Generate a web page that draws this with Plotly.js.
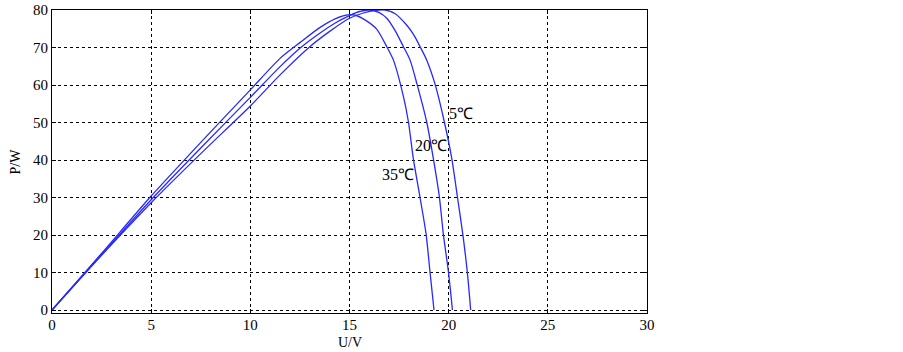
<!DOCTYPE html>
<html>
<head>
<meta charset="utf-8">
<script src="https://cdn.plot.ly/plotly-3.0.1.min.js"></script>
<style>html,body{margin:0;padding:0;background:#fff;}#chart{width:903px;height:352px;}</style>
</head>
<body>
<div id="chart"></div>
<script>
// Series: 35 ℃
const u35 = [0, 2.5, 5, 7.5, 10, 11.5, 12.5, 13.5, 14.3, 14.9, 15.3, 15.8, 16.37, 16.88, 17.21, 17.72, 17.97, 18.22, 18.55, 18.86, 19.06, 19.26];
const p35 = [0, 15.1, 30.4, 44.7, 58.7, 67.1, 71.3, 75.3, 77.7, 78.7, 78.6, 77.3, 74.9, 70.2, 66.7, 56.9, 50.2, 40.3, 30.2, 20.3, 10.1, 0];
// Series: 20 ℃
const u20 = [0, 2.5, 5, 7.5, 10, 11.5, 12.59, 13.5, 14.3, 15.0, 15.5, 16.0, 16.5, 16.88, 17.3, 17.72, 18.05, 18.39, 18.89, 19.23, 19.53, 19.73, 19.99, 20.19];
const p20 = [0, 14.8, 29.4, 43.2, 56.7, 64.9, 70.2, 73.8, 76.6, 78.5, 79.6, 80, 79.3, 77.8, 74.5, 70.2, 66.7, 60.5, 50.2, 40.3, 30.2, 20.3, 10.1, 0];
// Series: 5 ℃
const u5 = [0, 2.5, 5, 7.5, 10, 11.5, 13.0, 14.0, 15.0, 15.7, 16.3, 16.8, 17.3, 17.88, 18.25, 18.56, 18.89, 19.31, 19.78, 20.16, 20.44, 20.71, 20.94, 21.11];
const p5 = [0, 14.6, 28.6, 41.7, 54.4, 62.7, 70.2, 74.3, 77.8, 79.2, 79.9, 80, 79.0, 76, 73.3, 70.2, 66.7, 60.3, 50.2, 40.3, 30.2, 20.3, 10.1, 0];

const labels = ["5℃", "20℃", "35℃"];
const labelU = [20.6, 19.11, 17.45];
const labelP = [52.4, 43.9, 36.1];

const xTicks = [0, 5, 10, 15, 20, 25, 30];
const yTicks = [0, 10, 20, 30, 40, 50, 60, 70, 80];
const xTitle = 'U/V';
const yTitle = 'P/W';

const lineStyle = {color: 'rgb(40,40,255)', width: 1.3, shape: 'spline', smoothing: 0.7};
const traces = [
  {x: u35, y: p35, mode: 'lines', line: lineStyle, name: '35℃'},
  {x: u20, y: p20, mode: 'lines', line: lineStyle, name: '20℃'},
  {x: u5, y: p5, mode: 'lines', line: lineStyle, name: '5℃'}
];

const font = {family: '"Liberation Serif", "Times New Roman", serif', size: 16, color: '#000'};
const tickFont = {family: '"Liberation Serif", "Times New Roman", serif', size: 15, color: '#000'};
const titleFont = {family: '"Liberation Serif", "Times New Roman", serif', size: 14, color: '#000'};
const axisCommon = {
  showline: true, linecolor: '#000', linewidth: 1, mirror: 'ticks',
  ticks: 'inside', ticklen: 4, tickcolor: '#000',
  showgrid: true, gridcolor: '#000', gridwidth: 1, griddash: '3px,3px',
  zeroline: false, tickfont: tickFont
};

const annotations = labels.map((t, i) => ({
  x: labelU[i], y: labelP[i], text: t, showarrow: false,
  font: font, xanchor: 'center', yanchor: 'middle'
}));
annotations.push({xref: 'paper', yref: 'paper', x: 0.5, y: 0, yshift: -21,
  text: xTitle, showarrow: false, font: titleFont, xanchor: 'center', yanchor: 'top', borderpad: 0});
annotations.push({xref: 'paper', yref: 'paper', x: 0, xshift: -37, y: 0.5,
  text: yTitle, textangle: -90, showarrow: false, font: titleFont, xanchor: 'center', yanchor: 'middle'});

const layout = {
  width: 903, height: 352,
  margin: {l: 52, r: 256, t: 10, b: 39},
  paper_bgcolor: '#fff', plot_bgcolor: '#fff',
  showlegend: false,
  font: font,
  xaxis: Object.assign({}, axisCommon, {
    range: [0, 30], tickvals: xTicks, ticktext: xTicks.map(String), ticklabelstandoff: -2
  }),
  yaxis: Object.assign({}, axisCommon, {
    range: [-0.8, 80], tickvals: yTicks, ticktext: yTicks.map(String)
  }),
  annotations: annotations
};

Plotly.newPlot('chart', traces, layout, {displayModeBar: false, staticPlot: true});
</script>
</body>
</html>
